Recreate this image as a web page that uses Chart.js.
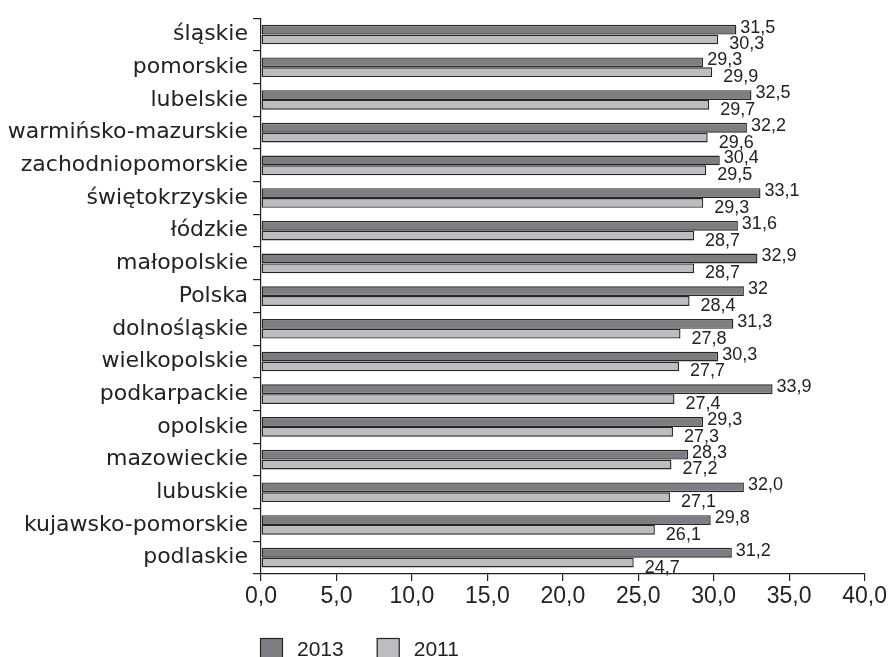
<!DOCTYPE html>
<html>
<head>
<meta charset="utf-8">
<script src="https://cdn.jsdelivr.net/npm/chart.js@4.4.1/dist/chart.umd.min.js"></script>
<style>
  html, body { margin: 0; padding: 0; background: #fff; }
  #wrap { width: 889px; height: 657px; }
</style>
</head>
<body>
<div id="wrap"><canvas id="chart" width="889" height="657"></canvas></div>
<script>
// regions, top to bottom as in the picture
const regions = [
    'śląskie', 'pomorskie', 'lubelskie', 'warmińsko-mazurskie', 'zachodniopomorskie',
    'świętokrzyskie', 'łódzkie', 'małopolskie', 'Polska', 'dolnośląskie',
    'wielkopolskie', 'podkarpackie', 'opolskie', 'mazowieckie', 'lubuskie',
    'kujawsko-pomorskie', 'podlaskie'
];
const values2013 = [31.5, 29.3, 32.5, 32.2, 30.4, 33.1, 31.6, 32.9, 32, 31.3, 30.3, 33.9, 29.3, 28.3, 32.0, 29.8, 31.2];
const values2011 = [30.3, 29.9, 29.7, 29.6, 29.5, 29.3, 28.7, 28.7, 28.4, 27.8, 27.7, 27.4, 27.3, 27.2, 27.1, 26.1, 24.7];
// labels as printed (Polska has "32" without decimals)
const labels2013 = ['31,5', '29,3', '32,5', '32,2', '30,4', '33,1', '31,6', '32,9', '32', '31,3', '30,3', '33,9', '29,3', '28,3', '32,0', '29,8', '31,2'];
const labels2011 = ['30,3', '29,9', '29,7', '29,6', '29,5', '29,3', '28,7', '28,7', '28,4', '27,8', '27,7', '27,4', '27,3', '27,2', '27,1', '26,1', '24,7'];
const seriesNames = ['2013', '2011'];

const INK = '#222';
const NUM_FONT = '"Liberation Sans", Arial, sans-serif';

// value labels at the end of each bar
const barLabels = {
    id: 'barLabels',
    afterDatasetsDraw(chart) {
        const ctx = chart.ctx;
        ctx.save();
        ctx.font = '18px ' + NUM_FONT;
        ctx.fillStyle = INK;
        ctx.textAlign = 'left';
        ctx.textBaseline = 'middle';
        const texts = [labels2013, labels2011];
        chart.data.datasets.forEach((ds, di) => {
            const meta = chart.getDatasetMeta(di);
            meta.data.forEach((bar, i) => {
                const dx = di === 0 ? 4 : 11;
                const dy = di === 0 ? -2 : 5;
                ctx.fillText(texts[di][i], bar.x + dx, bar.y + dy);
            });
        });
        ctx.restore();
    }
};

// legend under the axis, left aligned to the plot
const bottomLegend = {
    id: 'bottomLegend',
    afterDraw(chart) {
        const ctx = chart.ctx;
        const left = chart.chartArea.left;
        const y = 638;
        ctx.save();
        ctx.font = '21px ' + NUM_FONT;
        ctx.textBaseline = 'middle';
        ctx.textAlign = 'left';
        let x = left - 1;
        chart.data.datasets.forEach(ds => {
            ctx.fillStyle = ds.backgroundColor;
            ctx.strokeStyle = ds.borderColor;
            ctx.lineWidth = 1.2;
            ctx.fillRect(x, y, 23, 23);
            ctx.strokeRect(x + 0.5, y + 0.5, 22, 22);
            ctx.fillStyle = INK;
            ctx.fillText(ds.label, x + 37, y + 12);
            x += 37 + ctx.measureText(ds.label).width + 33;
        });
        ctx.restore();
    }
};

new Chart(document.getElementById('chart'), {
    type: 'bar',
    data: {
        labels: regions,
        datasets: [
            {
                label: seriesNames[0],
                data: values2013,
                backgroundColor: '#7d7d82',
                borderColor: '#262626',
                borderWidth: 1.4,
                borderSkipped: false,
                categoryPercentage: 0.6,
                barPercentage: 1.0
            },
            {
                label: seriesNames[1],
                data: values2011,
                backgroundColor: '#bcbdc1',
                borderColor: '#262626',
                borderWidth: 1.4,
                borderSkipped: false,
                categoryPercentage: 0.6,
                barPercentage: 1.0
            }
        ]
    },
    options: {
        indexAxis: 'y',
        responsive: false,
        animation: false,
        layout: { padding: { top: 13, right: 20, bottom: 0, left: 0 } },
        plugins: {
            legend: { display: false },
            tooltip: { enabled: false }
        },
        scales: {
            x: {
                min: 0,
                max: 40,
                afterFit: (scale) => { scale.height = 83; },
                ticks: {
                    stepSize: 5,
                    padding: 2,
                    color: INK,
                    font: { size: 23, family: NUM_FONT },
                    callback: (v) => Number(v).toFixed(1).replace('.', ',')
                },
                grid: {
                    drawOnChartArea: false,
                    drawTicks: true,
                    tickLength: 7,
                    color: INK,
                    lineWidth: 1.2
                },
                border: { display: true, color: INK, width: 1.2 }
            },
            y: {
                afterFit: (scale) => { scale.width = 261; },
                ticks: {
                    padding: 5,
                    color: INK,
                    font: { size: 22, family: '"DejaVu Sans", sans-serif' }
                },
                grid: {
                    offset: true,
                    drawOnChartArea: false,
                    drawTicks: true,
                    tickLength: 8,
                    color: INK,
                    lineWidth: 1.2
                },
                border: { display: true, color: INK, width: 1.2 }
            }
        }
    },
    plugins: [barLabels, bottomLegend]
});
</script>
</body>
</html>
